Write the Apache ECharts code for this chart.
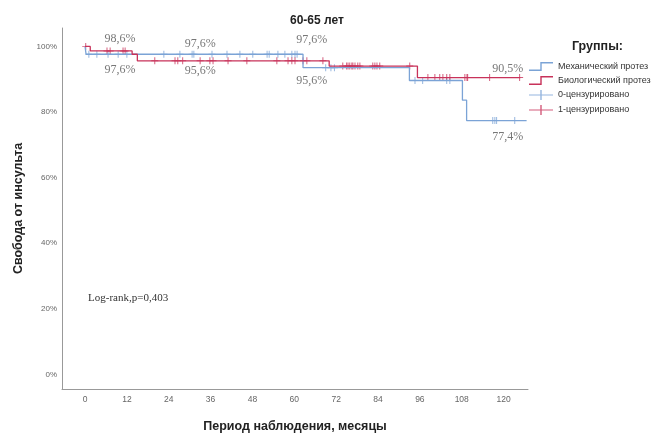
<!DOCTYPE html>
<html lang="ru">
<head>
<meta charset="UTF-8">
<title>60-65 лет</title>
<style>
  html, body { margin: 0; padding: 0; background: #fff; }
  #chart { width: 664px; height: 435px; }
</style>
</head>
<body>
<div id="chart"></div>
<script src="https://cdn.jsdelivr.net/npm/echarts@6/dist/echarts.min.js"></script>
<script>
// Kaplan-Meier steps: time (months) and survival (%)
var mechT = [0, 0.3, 62.5, 93.0, 108.2, 109.4, 126.6];
var mechS = [100, 97.6, 93.5, 89.6, 83.6, 77.4, 77.4];
var bioT = [0, 1.5, 13.5, 15, 70, 95.3, 124.8];
var bioS = [100, 98.6, 97.6, 95.6, 94.0, 90.5, 90.5];

// censored observations (months)
var mechCens = [1.1, 3.4, 6.6, 9.5, 12, 22.6, 27.2, 30.7, 31.2, 36.4, 40.7, 44.4, 48.1,
  52.2, 52.8, 55.3, 57.3, 59.3, 60.2, 60.8, 69, 70.5, 71.5, 94.6, 96.8, 103.7, 104.6,
  116.9, 117.5, 118, 123.2];
var bioCens = [0.2, 6.3, 7.2, 10.9, 11.5, 20, 25.8, 26.6, 28, 33, 35.8, 36.7, 41, 46.4,
  55, 58.2, 59.3, 60.2, 62.5, 63.6, 68.2, 73.9, 75, 75.4, 75.9, 76.5, 76.8, 77.4, 78.2,
  78.8, 82.5, 83.1, 83.7, 84.5, 93.1, 98.3, 100.3, 101.7, 102.6, 103.7, 104.6, 108.9,
  109.5, 109.7, 116, 124.6];

// text notes on the plot
var noteText = ['98,6%', '97,6%', '97,6%', '95,6%', '97,6%', '95,6%', '90,5%', '77,4%'];
var noteT = [10, 10, 33, 33, 65, 65, 121.2, 121.2];
var noteS = [102.4, 93.0, 100.9, 92.4, 102.1, 89.6, 93.3, 72.3];

var xTicks = [0, 12, 24, 36, 48, 60, 72, 84, 96, 108, 120];
var yTicks = [0, 20, 40, 60, 80, 100];

var blue = '#7ba3d6';
var red = '#c8325a';
var cross = 'path://M0,4.3L10,4.3L10,5.7L0,5.7Z M4.3,0L5.7,0L5.7,10L4.3,10Z';
var stepIcon = 'path://M0,8.6L11.3,8.6L11.3,1L24,1L24,2.4L12.7,2.4L12.7,10L0,10Z';
var crossIcon = 'path://M0,4.4L24,4.4L24,5.6L0,5.6Z M11.3,0L12.7,0L12.7,10L11.3,10Z';

function pairs(t, s) {
  return t.map(function (v, i) { return [v, s[i]]; });
}
function valueAt(t, s, x) {
  var v = s[0];
  for (var i = 0; i < t.length; i++) {
    if (t[i] <= x) v = s[i];
  }
  return v;
}

var myChart = echarts.init(document.getElementById('chart'));
var option = {
  animation: false,
  textStyle: { fontFamily: 'Liberation Sans, Arial, sans-serif' },
  title: [{
    text: '60-65 лет',
    left: 285, top: 10,
    textStyle: { fontSize: 12, fontWeight: 'bold', color: '#222' }
  }, {
    text: 'Группы:',
    left: 567, top: 35,
    textStyle: { fontSize: 12.5, fontWeight: 'bold', color: '#222' }
  }],
  grid: { left: 62, right: 136, top: 28, bottom: 46, outerBoundsMode: 'none', containLabel: false },
  legend: {
    orient: 'vertical',
    left: 524, top: 57,
    itemWidth: 24, itemHeight: 10, itemGap: 5,
    textStyle: { fontSize: 9, color: '#333' },
    selectedMode: false,
    data: [
      { name: 'Механический протез', icon: stepIcon, itemStyle: { color: blue } },
      { name: 'Биологический протез', icon: stepIcon, itemStyle: { color: red } },
      { name: '0-цензурировано', icon: crossIcon, itemStyle: { color: blue } },
      { name: '1-цензурировано', icon: crossIcon, itemStyle: { color: red } }
    ]
  },
  xAxis: {
    type: 'value',
    min: -6.6, max: 127,
    name: 'Период наблюдения, месяцы',
    nameLocation: 'middle', nameGap: 31,
    nameTextStyle: { fontSize: 12.5, fontWeight: 'bold', color: '#222' },
    axisLine: { onZero: false, lineStyle: { color: '#999' } },
    axisTick: { show: false },
    splitLine: { show: false },
    axisLabel: { customValues: xTicks, fontSize: 8.5, color: '#666', margin: 6 }
  },
  yAxis: {
    type: 'value',
    min: -4.4, max: 105.6,
    name: 'Свобода от инсульта',
    nameLocation: 'middle', nameGap: 37,
    nameTextStyle: { fontSize: 12.5, fontWeight: 'bold', color: '#222' },
    axisLine: { show: true, onZero: false, lineStyle: { color: '#999' } },
    axisTick: { show: false },
    splitLine: { show: false },
    axisLabel: {
      customValues: yTicks, fontSize: 8, color: '#666', margin: 5,
      formatter: function (v) { return v + '%'; }
    }
  },
  graphic: [{
    type: 'text', left: 88, top: 293,
    style: { text: 'Log-rank,p=0,403', font: '11px "Liberation Serif", serif', fill: '#333' }
  }],
  series: [{
    name: 'Механический протез', type: 'line', step: 'end', symbol: 'none',
    color: blue, lineStyle: { width: 1.3, color: blue },
    data: pairs(mechT, mechS)
  }, {
    name: 'Биологический протез', type: 'line', step: 'end', symbol: 'none',
    color: red, lineStyle: { width: 1.3, color: red },
    data: pairs(bioT, bioS)
  }, {
    name: '0-цензурировано', type: 'scatter', symbol: cross, symbolSize: 7,
    color: blue,
    data: mechCens.map(function (t) { return [t, valueAt(mechT, mechS, t)]; })
  }, {
    name: '1-цензурировано', type: 'scatter', symbol: cross, symbolSize: 7,
    color: red,
    data: bioCens.map(function (t) { return [t, valueAt(bioT, bioS, t)]; })
  }, {
    name: 'notes', type: 'scatter', symbolSize: 0, silent: true,
    label: {
      show: true, position: 'inside',
      formatter: '{b}',
      fontFamily: '"Liberation Serif", serif', fontSize: 12, color: '#555'
    },
    data: noteText.map(function (s, i) { return { name: s, value: [noteT[i], noteS[i]] }; })
  }]
};
myChart.setOption(option);
</script>
</body>
</html>
